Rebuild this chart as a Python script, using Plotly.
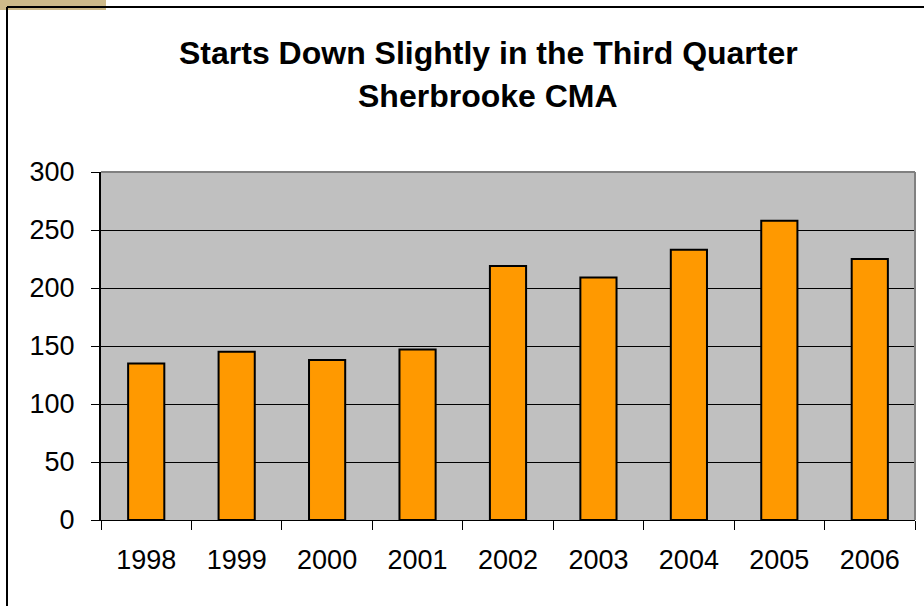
import plotly.graph_objects as go

years = ["1998", "1999", "2000", "2001", "2002", "2003", "2004", "2005", "2006"]
starts = [135, 145, 138, 147, 219, 209, 233, 258, 225]
y_ticks = [0, 50, 100, 150, 200, 250, 300]
title_line1 = "Starts Down Slightly in the Third Quarter"
title_line2 = "Sherbrooke CMA"

W, H = 924, 606
L, R, T, B = 101, 9, 172, 86
PW = W - L - R
PH = H - T - B

def px_x(x):
    return (x - L) / PW

def px_y(y):
    return (H - B - y) / PH

FONT = "Liberation Sans, Arial, sans-serif"

fig = go.Figure()
fig.add_trace(go.Bar(
    x=years, y=starts,
    marker=dict(color="#FF9900", line=dict(color="black", width=2)),
))

fig.update_layout(
    width=W, height=H,
    margin=dict(l=L, r=R, t=T, b=B, pad=0),
    paper_bgcolor="white",
    plot_bgcolor="#C0C0C0",
    bargap=0.6,
    showlegend=False,
    font=dict(family=FONT, color="black"),
    xaxis=dict(
        type="category",
        tickson="boundaries",
        ticks="outside", ticklen=9, tickwidth=1, tickcolor="black",
        showline=True, linecolor="black", linewidth=1,
        showgrid=False,
        tickfont=dict(size=27, family=FONT, color="black"),
        ticklabelstandoff=16,
    ),
    yaxis=dict(
        range=[0, 300],
        tickvals=y_ticks,
        ticks="outside", ticklen=8, tickwidth=1, tickcolor="black",
        showline=True, linecolor="black", linewidth=2,
        showgrid=True, gridcolor="black", gridwidth=1,
        zeroline=False,
        tickfont=dict(size=27, family=FONT, color="black"),
        ticklabelstandoff=11,
    ),
    shapes=[
        dict(type="rect", xref="paper", yref="paper", layer="below",
             x0=px_x(0), x1=px_x(106), y0=px_y(0), y1=px_y(10),
             fillcolor="#CDBA8A", line=dict(width=0)),
        dict(type="line", xref="paper", yref="paper",
             x0=px_x(7), x1=px_x(7), y0=px_y(7), y1=px_y(606),
             line=dict(color="black", width=2)),
        dict(type="line", xref="paper", yref="paper",
             x0=px_x(7), x1=px_x(924), y0=px_y(7), y1=px_y(7),
             line=dict(color="black", width=2)),
        dict(type="line", xref="paper", yref="paper", layer="above",
             x0=0, x1=1, y0=1, y1=1,
             line=dict(color="#808080", width=2)),
        dict(type="line", xref="paper", yref="paper", layer="above",
             x0=1, x1=1, y0=0, y1=1,
             line=dict(color="#808080", width=2)),
    ],
    annotations=[
        dict(text="<b>" + title_line1 + "</b>", xref="paper", yref="paper",
             x=px_x(488), y=px_y(53), xanchor="center", yanchor="middle",
             showarrow=False, font=dict(size=32, family=FONT, color="black")),
        dict(text="<b>" + title_line2 + "</b>", xref="paper", yref="paper",
             x=px_x(488), y=px_y(96), xanchor="center", yanchor="middle",
             showarrow=False, font=dict(size=32, family=FONT, color="black")),
    ],
)

fig.write_html("out.html")
